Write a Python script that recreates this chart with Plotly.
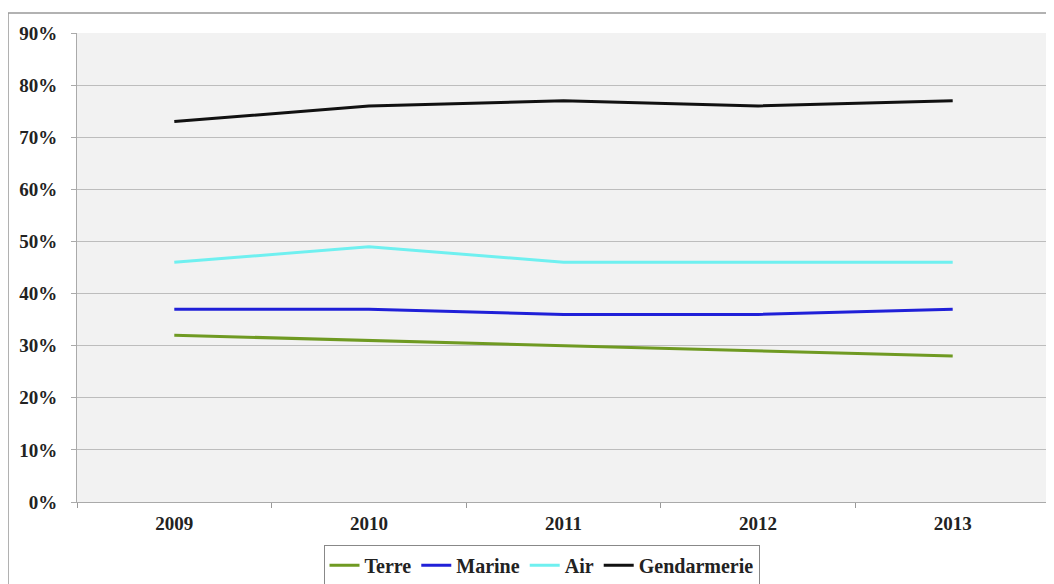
import plotly.graph_objects as go

years = ["2009", "2010", "2011", "2012", "2013"]
terre = [32, 31, 30, 29, 28]
marine = [37, 37, 36, 36, 37]
air = [46, 49, 46, 46, 46]
gendarmerie = [73, 76, 77, 76, 77]
y_ticks = [0, 10, 20, 30, 40, 50, 60, 70, 80, 90]
y_labels = [f"{v}%" for v in y_ticks]

series = [
    ("Terre", terre, "#6f9a22"),
    ("Marine", marine, "#2020d8"),
    ("Air", air, "#6ff0f0"),
    ("Gendarmerie", gendarmerie, "#111111"),
]

fig = go.Figure()
for name, vals, color in series:
    fig.add_trace(go.Scatter(x=years, y=vals, name=name, mode="lines",
                             line=dict(color=color, width=3)))

font_family = "Liberation Serif"
fig.update_layout(
    width=1046, height=576,
    margin=dict(l=69, r=4, t=25, b=82, autoexpand=False),
    paper_bgcolor="white",
    plot_bgcolor="#f2f2f2",
    font=dict(family=font_family, size=19, color="#222222"),
    showlegend=True,
    legend=dict(orientation="h", x=0.4774, xanchor="center", y=-0.091, yanchor="top",
                bordercolor="#888888", borderwidth=1, bgcolor="white",
                font=dict(family=font_family, size=20, color="#222222", weight="bold"),
                tracegroupgap=0),
    xaxis=dict(type="category", range=[-0.5, 4.5], tickson="boundaries",
               ticks="outside", ticklen=5, tickcolor="#999999",
               showline=True, linecolor="#aaaaaa", linewidth=1,
               showgrid=False,
               tickfont=dict(family=font_family, size=19, color="#222222", weight="bold"),
               ticklabelstandoff=4),
    yaxis=dict(range=[0, 90], tickvals=y_ticks, ticktext=y_labels,
               ticks="outside", ticklen=5, tickcolor="#aaaaaa",
               showline=True, linecolor="#aaaaaa", linewidth=1, mirror=True,
               showgrid=True, gridcolor="#bdbdbd", gridwidth=1, zeroline=False,
               tickfont=dict(family=font_family, size=19, color="#222222", weight="bold"),
               ticklabelstandoff=10),
    shapes=[dict(type="rect", xref="paper", yref="paper",
                 x0=-0.0709, x1=1.02, y0=-0.3, y1=1.0426,
                 line=dict(color="#999999", width=1.5), fillcolor="rgba(0,0,0,0)",
                 layer="below")],
)

fig.write_html("out.html")
